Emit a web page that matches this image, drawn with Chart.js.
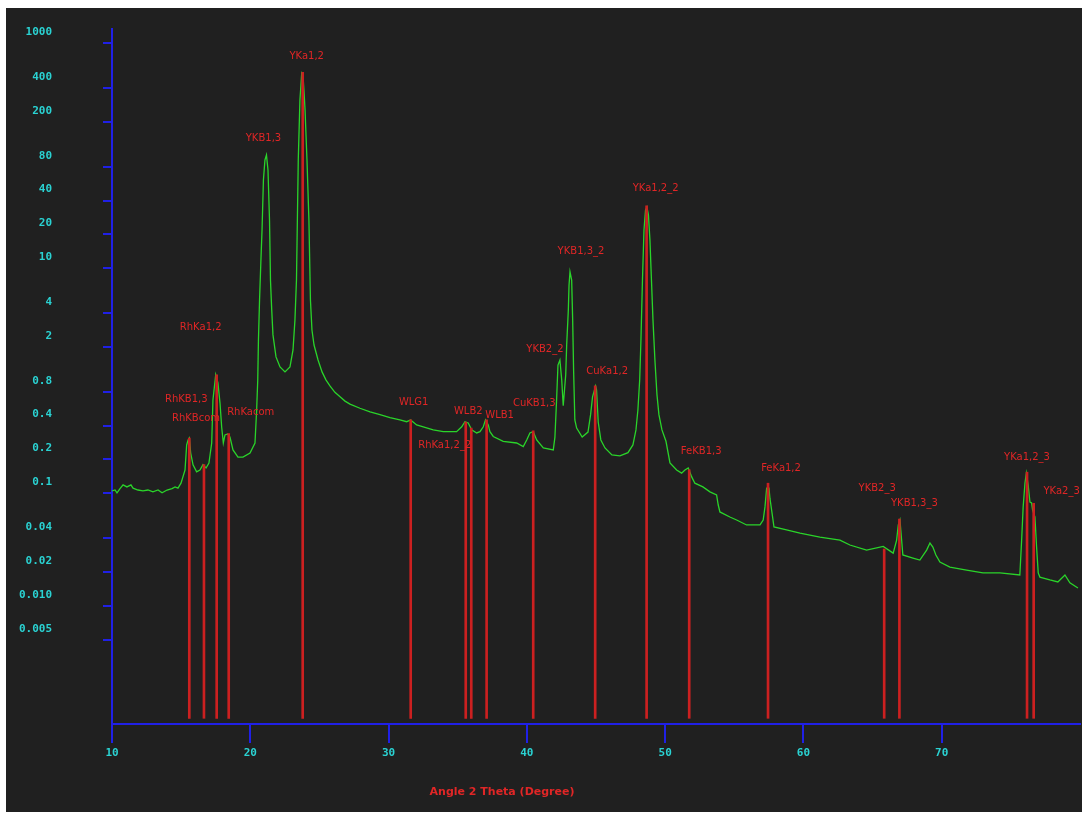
<!DOCTYPE html>
<html>
<head>
<meta charset="utf-8">
<script src="https://cdn.jsdelivr.net/npm/chart.js@4.4.1/dist/chart.umd.min.js"></script>
<style>
  html, body { margin: 0; padding: 0; background: #ffffff; }
  canvas { display: block; }
</style>
</head>
<body>
<canvas id="scan" width="1082" height="814"></canvas>
<script>
// Measured scan: angle 2θ (degrees) and intensity
const scanAngle = [
  10.00, 10.22, 10.36, 10.58, 10.80, 11.08, 11.37, 11.52, 11.88, 12.24,
  12.60, 12.96, 13.33, 13.62, 13.98, 14.34, 14.56, 14.77, 14.99, 15.13,
  15.28, 15.40, 15.50, 15.59, 15.69, 15.86, 16.12, 16.36, 16.58, 16.80,
  17.01, 17.21, 17.30, 17.50, 17.66, 17.81, 17.93, 18.05, 18.17, 18.36,
  18.53, 18.75, 19.11, 19.47, 19.98, 20.34, 20.46, 20.54, 20.59, 20.67,
  20.77, 20.85, 20.95, 21.06, 21.17, 21.28, 21.39, 21.46, 21.55, 21.64,
  21.86, 22.15, 22.51, 22.87, 23.09, 23.23, 23.34, 23.47, 23.59, 23.72,
  23.81, 23.88, 23.96, 24.10, 24.24, 24.35, 24.46, 24.61, 24.90, 25.19,
  25.47, 25.76, 26.12, 26.49, 26.85, 27.21, 27.93, 28.66, 29.38, 30.10,
  30.82, 31.31, 31.60, 32.03, 32.51, 33.23, 33.96, 34.92, 35.29, 35.52,
  35.76, 36.01, 36.37, 36.61, 36.85, 37.01, 37.21, 37.33, 37.57, 38.29,
  39.26, 39.74, 39.99, 40.22, 40.46, 40.71, 41.19, 41.91, 42.03, 42.15,
  42.25, 42.39, 42.52, 42.63, 42.81, 42.88, 43.00, 43.05, 43.12, 43.24,
  43.31, 43.38, 43.47, 43.60, 44.00, 44.42, 44.61, 44.75, 44.97, 45.04,
  45.16, 45.35, 45.65, 46.15, 46.73, 47.31, 47.67, 47.89, 48.03, 48.16,
  48.25, 48.36, 48.47, 48.58, 48.68, 48.79, 48.90, 49.01, 49.12, 49.26,
  49.41, 49.55, 49.77, 50.06, 50.35, 50.83, 51.19, 51.43, 51.67, 51.92,
  52.15, 52.73, 53.24, 53.72, 53.84, 53.96, 54.68, 55.17, 55.89, 56.86,
  57.09, 57.22, 57.34, 57.51, 57.58, 57.77, 57.87, 58.78, 59.75, 61.19,
  62.64, 63.36, 64.57, 65.77, 66.49, 66.74, 66.86, 66.98, 67.10, 67.19,
  67.92, 68.42, 68.91, 69.15, 69.36, 69.58, 69.87, 70.59, 71.80, 72.98,
  74.21, 75.65, 75.78, 75.89, 76.02, 76.12, 76.25, 76.38, 76.50, 76.57,
  76.74, 76.86, 76.98, 77.10, 77.82, 78.40, 78.91, 79.27, 79.85
];
const scanIntensity = [
  0.105, 0.107, 0.101, 0.110, 0.119, 0.114, 0.119, 0.111, 0.107, 0.105,
  0.107, 0.103, 0.107, 0.101, 0.107, 0.110, 0.114, 0.111, 0.123, 0.140,
  0.161, 0.269, 0.298, 0.310, 0.228, 0.179, 0.155, 0.161, 0.180, 0.168,
  0.186, 0.280, 0.675, 1.13, 0.957, 0.635, 0.388, 0.280, 0.330, 0.337,
  0.316, 0.243, 0.210, 0.210, 0.228, 0.280, 0.550, 1.02, 2.31, 5.23,
  11.9, 21.9, 61, 91.8, 101.6, 74.8, 26.8, 7.87, 4.27, 2.56,
  1.63, 1.33, 1.20, 1.33, 1.88, 3.48, 7.87, 91.8, 313, 545,
  523, 384, 255, 91.8, 26.8, 5.23, 2.83, 2.08, 1.53, 1.20,
  1.02, 0.90, 0.79, 0.72, 0.66, 0.62, 0.57, 0.53, 0.50, 0.47,
  0.45, 0.433, 0.449, 0.405, 0.39, 0.366, 0.353, 0.353, 0.39, 0.433,
  0.422, 0.366, 0.344, 0.353, 0.39, 0.449, 0.405, 0.353, 0.32, 0.29,
  0.280, 0.26, 0.298, 0.344, 0.353, 0.298, 0.253, 0.243, 0.316, 0.675,
  1.38, 1.53, 1.02, 0.60, 1.13, 2.08, 4.27, 7.1, 9.3, 7.87,
  3.6, 1.25, 0.449, 0.38, 0.316, 0.35, 0.50, 0.72, 0.90, 0.83,
  0.43, 0.298, 0.253, 0.219, 0.215, 0.23, 0.269, 0.366, 0.550, 1.02,
  2.31, 7.87, 21.9, 32.9, 35, 30, 17.9, 7.87, 3.48, 1.53,
  0.75, 0.50, 0.366, 0.29, 0.186, 0.161, 0.151, 0.161, 0.168, 0.140,
  0.123, 0.114, 0.103, 0.0966, 0.0787, 0.0683, 0.0616, 0.0579, 0.0523, 0.0523,
  0.0579, 0.0757, 0.111, 0.111, 0.090, 0.0616, 0.0502, 0.0472, 0.0443, 0.0408,
  0.0384, 0.0347, 0.0313, 0.0337, 0.0294, 0.0384, 0.0523, 0.0579, 0.0384, 0.0283,
  0.0266, 0.0255, 0.0313, 0.0361, 0.0333, 0.0283, 0.0245, 0.0221, 0.0208, 0.0196,
  0.0196, 0.0188, 0.0384, 0.0757, 0.123, 0.151, 0.119, 0.0837, 0.082, 0.0711,
  0.0616, 0.0333, 0.0196, 0.0180, 0.0170, 0.0163, 0.0188, 0.0160, 0.0144
];

// Identified lines: name, angle, peak intensity, and whether a marker is drawn
const lineNames = [
  'RhKB1,3', 'RhKBcom', 'RhKa1,2', 'RhKacom', 'YKB1,3', 'YKa1,2', 'WLG1',
  'RhKa1,2_2', 'WLB2', 'WLB1', 'CuKB1,3', 'YKB2_2', 'YKB1,3_2', 'CuKa1,2',
  'YKa1,2_2', 'FeKB1,3', 'FeKa1,2', 'YKB2_3', 'YKB1,3_3', 'YKa1,2_3', 'YKa2_3'
];
const lineAngle = [
  15.59, 16.65, 17.57, 18.44, 21.17, 23.79, 31.60,
  35.58, 35.98, 37.09, 40.46, 42.39, 43.12, 44.94,
  48.66, 51.74, 57.44, 65.84, 66.94, 76.17, 76.65
];
const linePeak = [
  0.31, 0.18, 1.13, 0.34, 101.6, 552, 0.449,
  0.43, 0.38, 0.45, 0.36, 1.53, 9.3, 0.90,
  36, 0.162, 0.123, 0.032, 0.059, 0.154, 0.0815
];
const lineMarked = [
  true, true, true, true, false, true, true,
  true, true, true, true, false, false, true,
  true, true, true, true, true, true, true
];

// Axis ticks
const yTickValues = [1000, 400, 200, 80, 40, 20, 10, 4, 2, 0.8, 0.4, 0.2, 0.1, 0.04, 0.02, 0.01, 0.005];
const yTickLabels = ['1000', '400', '200', '80', '40', '20', '10', '4', '2', '0.8', '0.4', '0.2', '0.1', '0.04', '0.02', '0.010', '0.005'];
const xTickValues = [10, 20, 30, 40, 50, 60, 70];
const xTitle = 'Angle 2 Theta (Degree)';

// Label placement relative to the top of each line (pixels)
const labelShift = [
  [-3, -39], [-8, -46], [-16, -47], [22, -21], [-3, -17], [4, -16], [3, -18],
  [-21, 23], [-3, -17], [13, -4], [1, -27], [-15, -11], [11, -20], [12, -15],
  [9, -17], [12, -18], [13, -15], [-7, -61], [15, -16], [0, -15], [28, -12]
];

const BLUE = '#2020e6';
const CYAN = '#2ad2d2';
const GREEN = '#2ad42a';
const RED_LINE = '#cc2020';
const RED_TEXT = '#e02626';
const PANEL = '#202020';
const LINE_BASE = 0.001;

const markers = [];
lineNames.forEach((n, i) => {
  if (lineMarked[i]) markers.push({ x: lineAngle[i], y: [LINE_BASE, linePeak[i]] });
});

const panelBackground = {
  id: 'panelBackground',
  beforeDraw(chart) {
    const c = chart.ctx;
    c.save();
    c.fillStyle = '#ffffff';
    c.fillRect(0, 0, chart.width, chart.height);
    c.fillStyle = PANEL;
    c.fillRect(6, 8, chart.width - 6, chart.height - 10);
    c.restore();
  }
};

const lineLabels = {
  id: 'lineLabels',
  afterDatasetsDraw(chart) {
    const c = chart.ctx;
    const xs = chart.scales.x, ys = chart.scales.y;
    c.save();
    c.font = '10px "DejaVu Sans"';
    c.fillStyle = RED_TEXT;
    c.textAlign = 'center';
    c.textBaseline = 'middle';
    lineNames.forEach((n, i) => {
      const px = xs.getPixelForValue(lineAngle[i]);
      const py = ys.getPixelForValue(linePeak[i]);
      c.fillText(n, px + labelShift[i][0], py + labelShift[i][1]);
    });
    c.font = 'bold 11px "DejaVu Sans"';
    c.fillText(xTitle, 502, 792);
    c.restore();
  }
};

new Chart(document.getElementById('scan'), {
  data: {
    datasets: [
      {
        type: 'bar',
        data: markers,
        backgroundColor: RED_LINE,
        borderWidth: 0,
        barThickness: 2,
        grouped: false,
        order: 0
      },
      {
        type: 'line',
        data: scanAngle.map((a, i) => ({ x: a, y: scanIntensity[i] })),
        borderColor: GREEN,
        borderWidth: 1.3,
        pointRadius: 0,
        tension: 0,
        order: 1
      }
    ]
  },
  options: {
    responsive: false,
    animation: false,
    layout: { padding: { top: 29, right: 2, left: 0, bottom: 0 } },
    plugins: { legend: { display: false }, tooltip: { enabled: false } },
    scales: {
      x: {
        type: 'linear',
        min: 10,
        max: 80,
        offset: false,
        afterBuildTicks(s) { s.ticks = xTickValues.map(v => ({ value: v })); },
        afterFit(s) { s.height = 90; s.paddingLeft = 0; s.paddingRight = 0; },
        ticks: {
          color: CYAN,
          font: { family: '"DejaVu Sans Mono"', size: 11, weight: 'bold' },
          padding: 4,
          maxRotation: 0,
          autoSkip: false
        },
        grid: { offset: false, drawOnChartArea: false, tickLength: 19, color: BLUE, lineWidth: 2 },
        border: { color: BLUE, width: 2 }
      },
      y: {
        type: 'logarithmic',
        min: 0.00089,
        max: 1340,
        afterBuildTicks(s) { s.ticks = yTickValues.map(v => ({ value: v })); },
        afterFit(s) { s.width = 112; s.paddingTop = 0; s.paddingBottom = 0; },
        ticks: {
          callback: v => yTickLabels[yTickValues.indexOf(v)],
          color: CYAN,
          font: { family: '"DejaVu Sans Mono"', size: 11, weight: 'bold' },
          padding: 51,
          labelOffset: -11,
          autoSkip: false
        },
        grid: { drawOnChartArea: false, tickLength: 9, color: BLUE, lineWidth: 2 },
        border: { color: BLUE, width: 2 }
      }
    }
  },
  plugins: [panelBackground, lineLabels]
});
</script>
</body>
</html>
